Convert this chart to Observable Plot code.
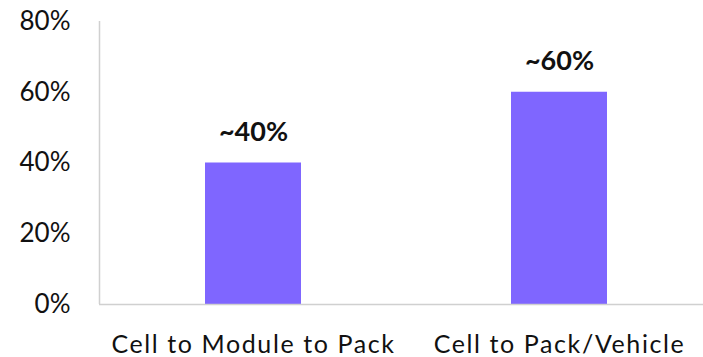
<!DOCTYPE html>
<html>
<head>
<meta charset="utf-8">
<script src="https://cdn.jsdelivr.net/npm/d3@7"></script>
<script src="https://cdn.jsdelivr.net/npm/@observablehq/plot@0.6"></script>
<style>
  html, body { margin: 0; padding: 0; background: #fff; }
  #chart svg { display: block; }
  #chart [aria-label="x-axis tick label"] text { letter-spacing: 1.6px; }
</style>
</head>
<body>
<div id="chart"></div>
<script>
const categories = ["Cell to Module to Pack", "Cell to Pack/Vehicle"];
const values = [0.40, 0.60];
const valueLabels = ["~40%", "~60%"];
const yTicks = [0, 0.2, 0.4, 0.6, 0.8];

const data = categories.map((c, i) => ({category: c, value: values[i], label: valueLabels[i]}));

const axisColor = "#d0d0d0";
const barColor = "#7f66ff";
const font = "Lato, 'Open Sans', sans-serif";

const leftLine = (index, scales, vals, dims) => {
  const g = d3.create("svg:g");
  g.append("line")
    .attr("x1", dims.marginLeft + 0.5).attr("x2", dims.marginLeft + 0.5)
    .attr("y1", scales.y(0.8)).attr("y2", scales.y(0))
    .attr("stroke", axisColor).attr("stroke-width", 1.5);
  return g.node();
};

const chart = Plot.plot({
  width: 703,
  height: 357,
  marginTop: 21,
  marginBottom: 53,
  marginLeft: 99,
  marginRight: 0,
  style: {fontFamily: font, background: "#fff", color: "#111"},
  x: {domain: categories, range: [99, 712], paddingInner: 0.687, paddingOuter: 0.343, label: null},
  y: {domain: [0, 0.8], label: null},
  marks: [
    Plot.barY(data, {x: "category", y: "value", fill: barColor}),
    Plot.ruleY([0], {stroke: axisColor, strokeWidth: 1.5}),
    leftLine,
    Plot.axisY({ticks: yTicks, tickFormat: d => Math.round(d * 100) + "%", tickSize: 0, tickPadding: 29, fontSize: 26, fill: "#111", label: null}),
    Plot.axisX({tickSize: 0, tickPadding: 31, fontSize: 25, fill: "#111", label: null}),
    Plot.text(data, {x: "category", y: "value", text: "label", dy: -31, fontSize: 27, fontWeight: "bold", fill: "#111"})
  ]
});
document.getElementById("chart").appendChild(chart);
</script>
</body>
</html>
